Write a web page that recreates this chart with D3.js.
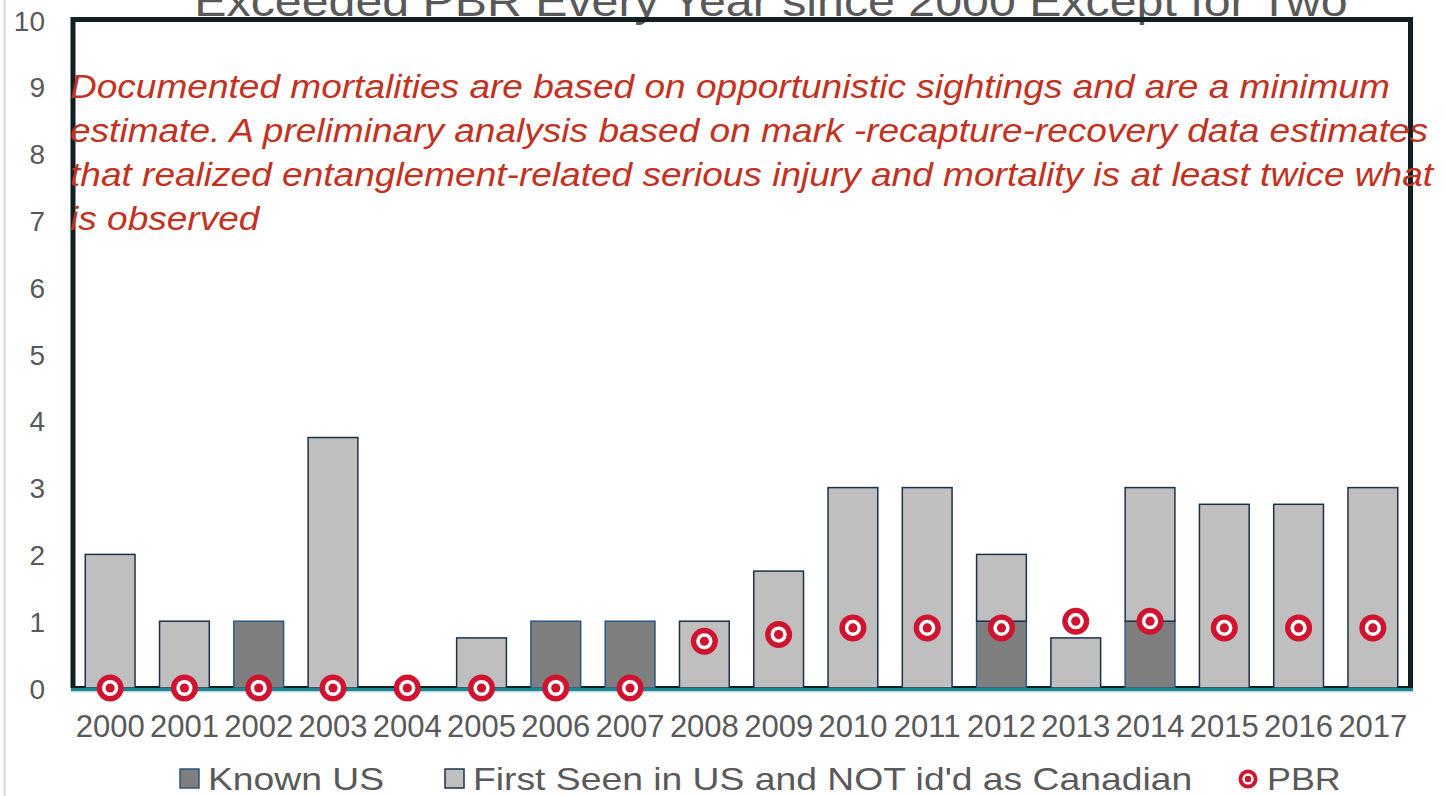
<!DOCTYPE html>
<html>
<head>
<meta charset="utf-8">
<script src="https://cdn.jsdelivr.net/npm/d3@7"></script>
<style>
  body { margin: 0; background: #fff; }
  svg { display: block; font-family: "Liberation Sans", Arial, sans-serif; }
</style>
</head>
<body>
<script>
//data
var years = ["2000", "2001", "2002", "2003", "2004", "2005", "2006", "2007", "2008",
    "2009", "2010", "2011", "2012", "2013", "2014", "2015", "2016", "2017"];
var knownUS = [0, 0, 1, 0, 0, 0, 1, 1, 0, 0, 0, 0, 1, 0, 1, 0, 0, 0];
var firstSeenUS = [2, 1, 0, 3.75, 0, 0.75, 0, 0, 1, 1.75, 3, 3, 1, 0.75, 2, 2.75, 2.75, 3];
var pbr = [0, 0, 0, 0, 0, 0, 0, 0, 0.7, 0.8, 0.9, 0.9, 0.9, 1, 1, 0.9, 0.9, 0.9];
var yTicks = [0, 1, 2, 3, 4, 5, 6, 7, 8, 9, 10];
var seriesNames = ["Known US", "First Seen in US and NOT id'd as Canadian", "PBR"];
var titleText = "Exceeded PBR Every Year since 2000 Except for Two";
var noteLines = [
    "Documented mortalities are based on opportunistic sightings and are a minimum",
    "estimate. A preliminary analysis based on mark -recapture-recovery data estimates",
    "that realized entanglement-related serious injury and mortality is at least twice what",
    "is observed"
];

var width = 1445,
    height = 796;

var colorKnown = "#7f7f7f",
    colorFirst = "#bfbfbf",
    colorRed = "#d0132e",
    textGray = "#595959";

//the original picture is a bit wider than tall, text looks stretched
var stretch = 1.165;

var svg = d3.select("body")
    .append("svg")
    .attr("width", width)
    .attr("height", height);

svg.append("rect")
    .attr("width", width)
    .attr("height", height)
    .attr("fill", "#fff");

//thin border of the chart area on the left
svg.append("line")
    .attr("x1", 4.5).attr("x2", 4.5)
    .attr("y1", 0).attr("y2", height)
    .attr("stroke", "#d9d9d9")
    .attr("stroke-width", 2);

var x = d3.scaleBand()
    .domain(years)
    .range([73, 1410])
    .paddingInner(0.33)
    .paddingOuter(0.165);

var y = d3.scaleLinear()
    .domain([0, 10])
    .range([688, 20]);

//title (cut off by the top edge, as in the source)
svg.append("text")
    .attr("transform", "translate(771,16) scale(1.15,1)")
    .attr("text-anchor", "middle")
    .attr("fill", textGray)
    .style("font-size", "42px")
    .text(titleText);

//y axis labels
var yAxis = d3.axisLeft(y)
    .tickValues(yTicks)
    .tickSize(0)
    .tickPadding(0)
    .tickFormat(d3.format("d"));

var gy = svg.append("g")
    .attr("transform", "translate(45,0)")
    .call(yAxis);
gy.select(".domain").remove();
gy.selectAll("text")
    .attr("fill", textGray)
    .attr("dy", "0.36em")
    .style("font-size", "28px")
    .style("font-family", "Liberation Sans, Arial, sans-serif");

//frame around the plot
svg.append("path")
    .attr("d", "M73,688 L73,19.5 L1410.5,19.5 L1410.5,688")
    .attr("fill", "none")
    .attr("stroke", "#112022")
    .attr("stroke-width", 5);
svg.append("line")
    .attr("x1", 71).attr("x2", 1413)
    .attr("y1", 691.5).attr("y2", 691.5)
    .attr("stroke", "#cfd3d4")
    .attr("stroke-width", 2);
svg.append("line")
    .attr("x1", 71).attr("x2", 1413)
    .attr("y1", 687).attr("y2", 687)
    .attr("stroke", "#112022")
    .attr("stroke-width", 2);

//stacked bars
var stackData = years.map(function (yr, i) {
    return { year: yr, known: knownUS[i], first: firstSeenUS[i], pbr: pbr[i] };
});
var stack = d3.stack().keys(["known", "first"]);
var layers = stack(stackData);
var fills = { known: colorKnown, first: colorFirst };
var strokes = { known: "#2b5680", first: "#1d3249" };

svg.selectAll(".layer")
    .data(layers)
    .enter()
    .append("g")
    .attr("class", "layer")
    .attr("fill", function (d) { return fills[d.key]; })
    .attr("stroke", function (d) { return strokes[d.key]; })
    .attr("stroke-width", 1.5)
    .selectAll("rect")
    .data(function (d) { return d.filter(function (s) { return s[1] - s[0] > 0; }); })
    .enter()
    .append("rect")
    .attr("x", function (d) { return x(d.data.year); })
    .attr("width", x.bandwidth())
    .attr("y", function (d) { return y(d[1]); })
    .attr("height", function (d) { return y(d[0]) - y(d[1]); });

//teal axis line
svg.append("line")
    .attr("x1", 71).attr("x2", 1413)
    .attr("y1", 689.5).attr("y2", 689.5)
    .attr("stroke", "#178a9a")
    .attr("stroke-width", 3);

//x axis labels
var xAxis = d3.axisBottom(x)
    .tickSize(0)
    .tickPadding(0);
var gx = svg.append("g")
    .attr("transform", "translate(0,737)")
    .call(xAxis);
gx.select(".domain").remove();
gx.selectAll("text")
    .attr("fill", textGray)
    .attr("dy", 0)
    .style("font-size", "31px")
    .style("font-family", "Liberation Sans, Arial, sans-serif");

//PBR bullseye markers
function bullseye(sel, r) {
    sel.append("circle").attr("r", r).attr("fill", colorRed);
    sel.append("circle").attr("r", r * 0.6).attr("fill", "#fff");
    sel.append("circle").attr("r", r * 0.34).attr("fill", colorRed);
}
svg.selectAll(".pbr")
    .data(stackData)
    .enter()
    .append("g")
    .attr("class", "pbr")
    .attr("transform", function (d) {
        return "translate(" + (x(d.year) + x.bandwidth() / 2) + "," + y(d.pbr) + ")";
    })
    .each(function () { bullseye(d3.select(this), 13.5); });

//annotation in red italic
svg.append("g")
    .attr("transform", "translate(70,0) scale(1.09,1)")
    .append("text")
    .attr("fill", "#c3311f")
    .style("font-size", "34px")
    .style("font-style", "italic")
    .selectAll("tspan")
    .data(noteLines)
    .enter()
    .append("tspan")
    .attr("x", 0)
    .attr("y", function (d, i) { return 98 + i * 44; })
    .text(function (d) { return d; });

//legend
var legend = svg.append("g").attr("class", "legend");
var legendItems = [
    { name: seriesNames[0], x: 180, fill: colorKnown, stroke: "#2b5680" },
    { name: seriesNames[1], x: 445, fill: colorFirst, stroke: "#1d3249" }
];
legendItems.forEach(function (it) {
    legend.append("rect")
        .attr("x", it.x).attr("y", 769)
        .attr("width", 19).attr("height", 19)
        .attr("fill", it.fill)
        .attr("stroke", it.stroke)
        .attr("stroke-width", 1.5);
    legend.append("text")
        .attr("transform", "translate(" + (it.x + 28) + ",790) scale(" + stretch + ",1)")
        .attr("fill", textGray)
        .style("font-size", "32px")
        .text(it.name);
});
var lp = legend.append("g").attr("transform", "translate(1248,779)");
bullseye(lp, 9.5);
legend.append("text")
    .attr("transform", "translate(1267,790) scale(1.12,1)")
    .attr("fill", textGray)
    .style("font-size", "32px")
    .text(seriesNames[2]);
</script>
</body>
</html>
